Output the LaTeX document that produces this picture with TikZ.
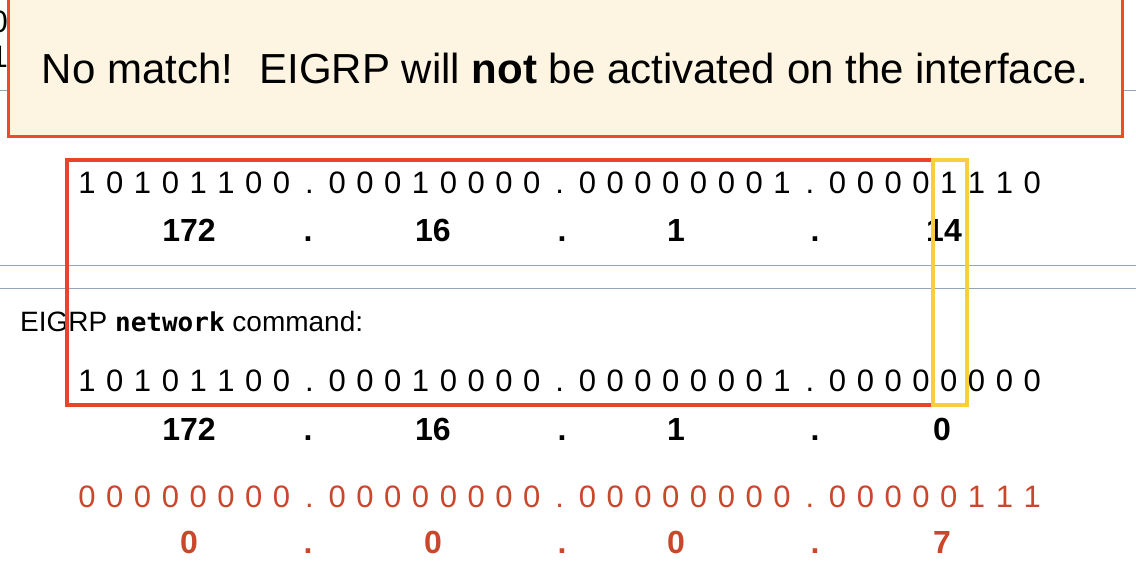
\documentclass[tikz,border=0pt]{standalone}
\usepackage{fontspec}
\setmainfont{Liberation Sans}
\setmonofont{DejaVu Sans Mono}

\definecolor{banfill}{HTML}{FDF5E1}
\definecolor{banline}{HTML}{EF4B25}
\definecolor{boxred}{HTML}{E8442B}
\definecolor{boxyellow}{HTML}{F6D03C}
\definecolor{maskred}{HTML}{C9482C}
\definecolor{rulegray}{HTML}{94A3BC}

\tikzset{
  bit/.style={anchor=base, inner sep=0pt, font=\fontsize{31}{36}\selectfont},
  dec/.style={anchor=base, inner sep=0pt, font=\fontsize{32}{36}\selectfont\bfseries},
}

\begin{document}
\begin{tikzpicture}[x=1pt,y=-1pt]
    \useasboundingbox (0,0) rectangle (1136,572);
    \fill[white] (0,0) rectangle (1136,572);

    % what is left of the slide behind the banner
    \node[bit, anchor=base east] (h0) at (8,33) {0};
    \node[bit, anchor=base east] (h1) at (8,68) {1};
    \draw[rulegray] (0,90)--(1136,90);
    \draw[rulegray] (0,265)--(1136,265);
    \draw[rulegray] (0,288)--(1136,288);

    % interface address
    \foreach \c [count=\i from 0] in {1,0,1,0,1,1,0,0,.,0,0,0,1,0,0,0,0,.,0,0,0,0,0,0,0,1,.,0,0,0,0,1,1,1,0}
        \node[bit] (a\i) at ({87+27.8*\i},194) {\c};
    \node[dec] (ad1) at (189,242) {172};
    \node[dec] (ap1) at (308,242) {.};
    \node[dec] (ad2) at (433,242) {16};
    \node[dec] (ap2) at (562,242) {.};
    \node[dec] (ad3) at (676,242) {1};
    \node[dec] (ap3) at (815,242) {.};
    \node[dec] (ad4) at (944,242) {14};

    % network command
    \node[anchor=base west, inner sep=0pt, font=\fontsize{28}{32}\selectfont] (cmd) at (20,331)
        {EIGRP {\fontsize{26}{32}\selectfont\ttfamily\bfseries network} command:};
    \foreach \c [count=\i from 0] in {1,0,1,0,1,1,0,0,.,0,0,0,1,0,0,0,0,.,0,0,0,0,0,0,0,1,.,0,0,0,0,0,0,0,0}
        \node[bit] (b\i) at ({87+27.8*\i},391) {\c};
    \node[dec] (bd1) at (189,440) {172};
    \node[dec] (bp1) at (308,440) {.};
    \node[dec] (bd2) at (433,440) {16};
    \node[dec] (bp2) at (562,440) {.};
    \node[dec] (bd3) at (676,440) {1};
    \node[dec] (bp3) at (815,440) {.};
    \node[dec] (bd4) at (942,440) {0};

    % wildcard mask
    \foreach \c [count=\i from 0] in {0,0,0,0,0,0,0,0,.,0,0,0,0,0,0,0,0,.,0,0,0,0,0,0,0,0,.,0,0,0,0,0,1,1,1}
        \node[bit, text=maskred] (c\i) at ({87+27.8*\i},507) {\c};
    \node[dec, text=maskred] (cd1) at (189,553) {0};
    \node[dec, text=maskred] (cp1) at (308,553) {.};
    \node[dec, text=maskred] (cd2) at (433,553) {0};
    \node[dec, text=maskred] (cp2) at (562,553) {.};
    \node[dec, text=maskred] (cd3) at (676,553) {0};
    \node[dec, text=maskred] (cp3) at (815,553) {.};
    \node[dec, text=maskred] (cd4) at (942,553) {7};

    % compared bits
    \draw[boxred, line width=4pt] (67,160) rectangle (933,405);
    \draw[boxyellow, line width=4pt] (933,160) rectangle (967,405);

    % banner
    \draw[banline, line width=3pt, fill=banfill] (8,-2) rectangle (1122,137);
    \node[anchor=base, inner sep=0pt, font=\fontsize{42}{50}\selectfont] (msg) at (565,84)
        {No match!\hspace{0.26em} EIGRP will \textbf{not} be activated on the interface.};
\end{tikzpicture}
\end{document}
